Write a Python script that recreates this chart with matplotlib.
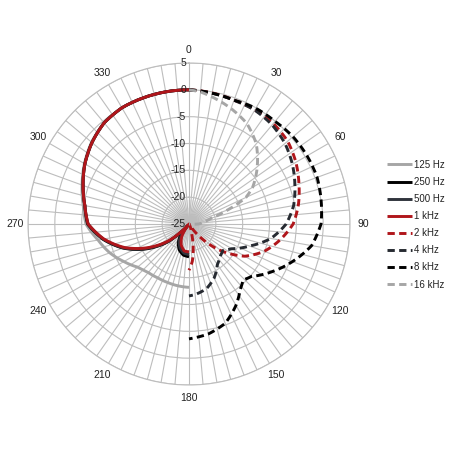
import numpy as np
import matplotlib
matplotlib.use('Agg')
import matplotlib.pyplot as plt
from matplotlib.transforms import offset_copy

plt.rcParams['font.family'] = ['Liberation Sans', 'DejaVu Sans']

# left half (solid): angles in degrees, level in dB
angles_left = [180, 190, 200, 210, 215, 220, 225, 230, 240, 250, 260, 270,
               280, 290, 300, 310, 320, 330, 340, 350, 360]
db_125 = [-13.2, -13.3, -13.4, -13.4, -13.3, -13.2, -12.9, -12.5, -11.0, -9.3, -7.8, -5.8,
          -5.0, -3.8, -2.5, -1.3, -0.4, 0.0, 0.0, 0.0, 0.0]
db_250 = [-18.9, -19.1, -19.8, -21.0, -22.0, -24.5, -22.8, -19.8, -15.7, -11.9, -8.7, -6.1,
          -5.3, -4.0, -2.6, -1.4, -0.4, 0.0, 0.0, 0.0, 0.0]
db_500 = [-19.3, -19.5, -20.2, -21.3, -22.8, -24.6, -23.0, -20.0, -15.9, -12.0, -8.8, -6.2,
          -5.3, -4.0, -2.6, -1.4, -0.4, 0.0, 0.0, 0.0, 0.0]
db_1k = [-19.8, -19.9, -20.8, -22.3, -23.8, -24.8, -23.3, -20.3, -16.2, -12.2, -8.9, -6.2,
         -5.3, -4.0, -2.6, -1.4, -0.4, 0.0, 0.0, 0.0, 0.0]

# right half (dashed)
angles_2k = [0, 10, 20, 30, 40, 50, 60, 70, 80, 90, 100, 110, 120, 130, 140, 145,
             150, 160, 165, 170, 175, 180]
db_2k = [0.0, -0.2, -0.45, -0.45, -0.55, -1.0, -2.0, -3.2, -4.3, -5.6, -7.8, -10.1,
         -13.0, -17.3, -22.0, -24.0, -25.0, -24.0, -23.0, -20.5, -18.0, -16.4]
angles_4k = [0, 10, 20, 30, 40, 50, 60, 70, 80, 90, 100, 110, 120, 128, 135, 145,
             155, 165, 175, 180]
db_4k = [0.0, -0.25, -0.47, -0.5, -0.9, -1.65, -2.75, -4.0, -5.2, -6.9, -9.5, -13.0,
         -15.8, -17.0, -16.7, -15.8, -13.9, -12.5, -11.8, -11.6]
angles_8k = [0, 10, 20, 30, 40, 50, 60, 70, 80, 90, 100, 110, 120, 130, 136, 142,
             150, 160, 170, 180]
db_8k = [0.0, -0.25, -0.45, -0.1, -0.05, 0.3, 0.4, 0.4, 0.0, -0.4, -1.8, -4.5,
         -7.2, -9.8, -10.5, -9.5, -7.5, -5.3, -4.2, -3.6]
angles_16k = [0, 5, 10, 20, 30, 40, 50, 60, 65, 70, 75, 80, 90, 95]
db_16k = [0.0, -0.3, -0.9, -2.1, -3.4, -5.5, -8.4, -11.3, -13.3, -17.3, -20.6, -21.8,
          -23.2, -25.0]

labels = ['125 Hz', '250 Hz', '500 Hz', '1 kHz', '2 kHz', '4 kHz', '8 kHz', '16 kHz']
colors = ['#a6a6a6', '#000000', '#30343c', '#b0161b', '#b0161b', '#262a31', '#000000', '#a6a6a6']

r_ticks = [-25, -20, -15, -10, -5, 0, 5]


def setup_axes(fig):
    ax = fig.add_axes([28 / 450, 65 / 450, 322 / 450, 322 / 450], projection='polar')
    ax.set_theta_zero_location('N')
    ax.set_theta_direction(-1)
    ax.set_rlim(-25, 5)
    ax.set_yticks(r_ticks)
    ax.set_yticklabels([])
    # spokes every 5 degrees, labels every 30
    ticks = np.arange(0, 360, 5)
    ax.set_xticks(np.deg2rad(ticks))
    ax.set_xticklabels([str(t) if t % 30 == 0 else '' for t in ticks])
    ax.tick_params(axis='x', pad=-1, labelsize=7.5, colors='#222222')
    ax.grid(True, color='#bdbdbd', linewidth=0.8)
    ax.spines['polar'].set_color('#bdbdbd')
    ax.spines['polar'].set_linewidth(0.8)
    # grey haze where the spokes meet
    th = np.linspace(0, 2 * np.pi, 121)
    for rr in [-20.5, -22, -23, -24]:
        ax.fill(th, np.full_like(th, rr), color='#9a9a9a', alpha=0.11, lw=0, zorder=0.5)
    # radial labels just left of the 0 spoke
    trans = offset_copy(ax.transData, fig=fig, x=-3, y=0, units='dots')
    for r in r_ticks:
        ax.text(0, r, str(r), transform=trans, ha='right', va='center',
                fontsize=7.5, color='#222222')
    return ax


def smooth(line):
    # draw each segment as a curve in polar space, not a straight chord
    line.get_path()._interpolation_steps = 30


def main():
    fig = plt.figure(figsize=(4.5, 4.5), dpi=100)
    ax = setup_axes(fig)

    solid = [db_125, db_250, db_500, db_1k]
    for i, d in enumerate(solid):
        ln, = ax.plot(np.deg2rad(angles_left), d, color=colors[i], lw=2.1,
                      label=labels[i], solid_capstyle='butt')
        smooth(ln)

    dashed = [(angles_2k, db_2k), (angles_4k, db_4k), (angles_8k, db_8k), (angles_16k, db_16k)]
    for j, (a, d) in enumerate(dashed):
        i = j + 4
        ln, = ax.plot(np.deg2rad(a), d, color=colors[i], lw=2.1, dashes=(2.5, 1.5),
                      label=labels[i])
        smooth(ln)

    fig.legend(loc='upper left', bbox_to_anchor=(382 / 450, 1 - 155 / 450),
               frameon=False, fontsize=7, handlelength=2.6, handletextpad=0.2,
               labelspacing=0.73, borderpad=0, labelcolor='#222222')
    fig.savefig('out.png', dpi=100)


if __name__ == '__main__':
    main()
